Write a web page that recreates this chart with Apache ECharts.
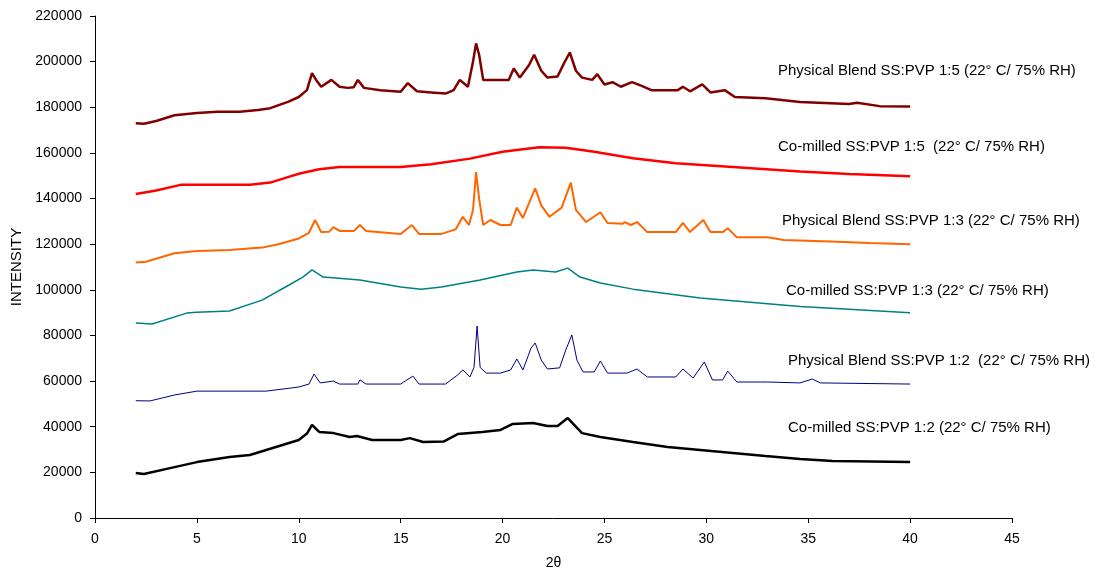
<!DOCTYPE html>
<html>
<head>
<meta charset="utf-8">
<script src="https://cdn.jsdelivr.net/npm/echarts@6/dist/echarts.min.js"></script>
<style>
  html, body { margin: 0; padding: 0; background: #fff; }
  #chart { width: 1101px; height: 576px; }
</style>
</head>
<body>
<div id="chart"></div>
<script>
// 2θ / intensity pairs
var pb15 = [[2.0,173000],[2.4,172800],[3.0,174000],[3.9,176500],[5.0,177500],[6.0,178000],[7.1,178000],[8.0,178800],[8.6,179600],[9.5,182500],[10.0,184500],[10.4,187500],[10.65,195000],[10.85,192000],[11.1,189000],[11.6,192000],[12.0,189000],[12.4,188500],[12.7,188800],[12.9,192000],[13.2,188500],[14.0,187500],[15.0,186800],[15.35,190600],[15.8,187000],[16.5,186500],[17.2,186000],[17.6,187500],[17.9,192000],[18.3,189000],[18.55,200000],[18.7,208000],[18.85,203000],[19.05,192000],[19.5,192000],[20.3,192000],[20.55,197000],[20.85,193000],[21.3,198500],[21.55,203000],[21.9,196000],[22.2,193000],[22.7,193500],[23.0,199000],[23.3,204000],[23.6,196000],[23.9,193000],[24.4,192000],[24.65,194500],[25.0,190000],[25.4,191000],[25.8,189000],[26.35,191000],[26.8,189500],[27.3,187500],[28.6,187500],[28.85,189000],[29.2,187000],[29.8,190000],[30.2,186500],[30.9,187500],[31.4,184500],[32.9,184000],[34.6,182300],[35.5,182000],[37.0,181400],[37.4,182000],[38.5,180500],[40.0,180300]];
var cm15 = [[2.0,142000],[3.0,143500],[4.2,146000],[5.0,146000],[7.6,146000],[8.6,147000],[9.5,149500],[10.05,151000],[11.0,152800],[12.0,153800],[15.0,153800],[16.5,155000],[18.4,157500],[20.0,160500],[21.8,162500],[23.1,162300],[24.5,160500],[26.4,157700],[28.5,155500],[31.3,153800],[34.6,151800],[37.0,150800],[40.0,149800]];
var pb13 = [[2.0,112000],[2.5,112300],[3.9,116000],[5.0,117000],[6.6,117500],[8.2,118500],[9.0,120000],[10.0,122500],[10.5,125000],[10.8,130600],[11.1,125300],[11.5,125500],[11.7,127500],[12.0,125800],[12.7,125800],[13.0,128400],[13.3,125800],[15.0,124500],[15.55,128400],[15.9,124500],[17.0,124500],[17.7,126500],[18.05,132000],[18.35,128400],[18.55,135000],[18.7,151600],[18.85,140000],[19.05,128400],[19.4,130600],[19.9,128400],[20.4,128400],[20.7,136000],[21.0,131500],[21.3,138000],[21.6,144500],[21.9,137000],[22.3,132000],[22.9,136000],[23.35,147000],[23.6,135000],[24.1,129700],[24.8,134000],[25.15,129300],[25.9,129000],[26.0,129700],[26.3,128400],[26.6,129700],[27.1,125300],[28.5,125300],[28.85,129300],[29.2,125300],[29.85,130600],[30.2,125300],[30.8,125300],[31.05,127000],[31.5,123000],[33.0,123000],[33.8,121800],[36.1,121200],[38.0,120500],[40.0,120000]];
var cm13 = [[2.0,85500],[2.8,85000],[4.5,89800],[5.0,90200],[6.6,90700],[8.2,95500],[9.5,102000],[10.2,105600],[10.65,108700],[11.2,105600],[13.0,104300],[15.0,101200],[16.0,100300],[17.0,101200],[18.9,104300],[20.7,107800],[21.5,108700],[22.6,107800],[23.2,109500],[23.8,105600],[24.8,103000],[26.4,100300],[29.7,96400],[34.6,92700],[37.0,91500],[40.0,90000]];
var pb12 = [[2.0,51400],[2.7,51300],[3.9,53900],[5.0,55600],[8.4,55600],[10.0,57400],[10.5,58700],[10.75,63100],[11.05,59200],[11.7,60000],[12.0,58700],[12.9,58700],[13.0,60500],[13.3,58700],[15.0,58700],[15.6,62200],[15.9,58700],[17.2,58700],[17.8,62700],[18.05,64900],[18.4,61800],[18.6,66000],[18.75,84100],[18.9,66000],[19.2,63500],[19.9,63500],[20.4,64900],[20.7,69700],[21.0,64900],[21.4,74500],[21.6,76700],[21.9,69200],[22.2,65300],[22.8,65800],[23.1,73600],[23.4,80200],[23.65,69200],[23.95,64000],[24.5,64000],[24.8,68800],[25.15,63500],[26.1,63500],[26.6,65300],[27.1,61800],[28.5,61800],[28.85,65300],[29.35,61300],[29.9,68400],[30.3,60500],[30.8,60500],[31.05,64400],[31.5,59600],[33.0,59600],[34.6,59200],[35.2,60900],[35.6,59200],[40.0,58700]];
var cm12 = [[2.0,19700],[2.4,19300],[3.9,22300],[5.0,24500],[6.6,26700],[7.6,27600],[9.2,32000],[10.0,34200],[10.4,37000],[10.65,40800],[11.0,37700],[11.7,37200],[12.5,35500],[12.85,35900],[13.6,34200],[15.0,34200],[15.45,35000],[16.1,33300],[17.1,33500],[17.8,36800],[19.0,37700],[19.9,38600],[20.5,41200],[21.5,41600],[22.2,40300],[22.7,40300],[23.2,43800],[23.9,37200],[24.8,35500],[26.4,33300],[28.1,31100],[29.7,29800],[31.3,28500],[32.9,27200],[34.6,25900],[36.2,25000],[40.0,24500]];

var seriesNames = [
  'Physical Blend SS:PVP 1:5 (22° C/ 75% RH)',
  'Co-milled SS:PVP 1:5  (22° C/ 75% RH)',
  'Physical Blend SS:PVP 1:3 (22° C/ 75% RH)',
  'Co-milled SS:PVP 1:3 (22° C/ 75% RH)',
  'Physical Blend SS:PVP 1:2  (22° C/ 75% RH)',
  'Co-milled SS:PVP 1:2 (22° C/ 75% RH)'
];
var seriesData = [pb15, cm15, pb13, cm13, pb12, cm12];
var colors = ['#800000', '#ff0000', '#ff6600', '#008080', '#000080', '#000000'];
var widths = [2.5, 2.5, 2, 1.5, 1, 2.5];
// where the text labels sit (left, middle y)
var labelPos = [[778, 72], [778, 148], [782, 222], [786, 292], [788, 362], [788, 429]];

var font = 'Liberation Sans, Arial, sans-serif';
var myChart = echarts.init(document.getElementById('chart'));

var option = {
  backgroundColor: '#fff',
  animation: false,
  grid: { left: 95, right: 89, top: 16, bottom: 58 },
  xAxis: {
    type: 'value',
    min: 0, max: 45, interval: 5,
    name: '2θ',
    nameLocation: 'middle',
    nameGap: 38,
    nameTextStyle: { color: '#000', fontFamily: font, fontSize: 14 },
    axisLine: { lineStyle: { color: '#000', width: 1 } },
    axisTick: { inside: false, length: 5, lineStyle: { color: '#000' } },
    axisLabel: { color: '#000', fontFamily: font, fontSize: 14, margin: 14 },
    splitLine: { show: false }
  },
  yAxis: {
    type: 'value',
    min: 0, max: 220000, interval: 20000,
    name: 'INTENSITY',
    nameLocation: 'middle',
    nameRotate: 90,
    nameGap: 70,
    nameTextStyle: { color: '#000', fontFamily: font, fontSize: 15 },
    axisLine: { show: true, lineStyle: { color: '#000', width: 1 } },
    axisTick: { show: true, inside: false, length: 5, lineStyle: { color: '#000' } },
    axisLabel: { color: '#000', fontFamily: font, fontSize: 14, margin: 13,
      formatter: function (v) { return String(v); } },
    splitLine: { show: false }
  },
  series: seriesData.map(function (d, i) {
    return {
      name: seriesNames[i],
      type: 'line',
      data: d,
      showSymbol: false,
      symbol: 'none',
      lineStyle: { color: colors[i], width: widths[i] },
      itemStyle: { color: colors[i] }
    };
  }),
  graphic: seriesNames.map(function (t, i) {
    return {
      type: 'text',
      left: labelPos[i][0],
      top: labelPos[i][1] - 9,
      style: { text: t, fill: '#000', font: '15px ' + font }
    };
  })
};

myChart.setOption(option);
</script>
</body>
</html>
